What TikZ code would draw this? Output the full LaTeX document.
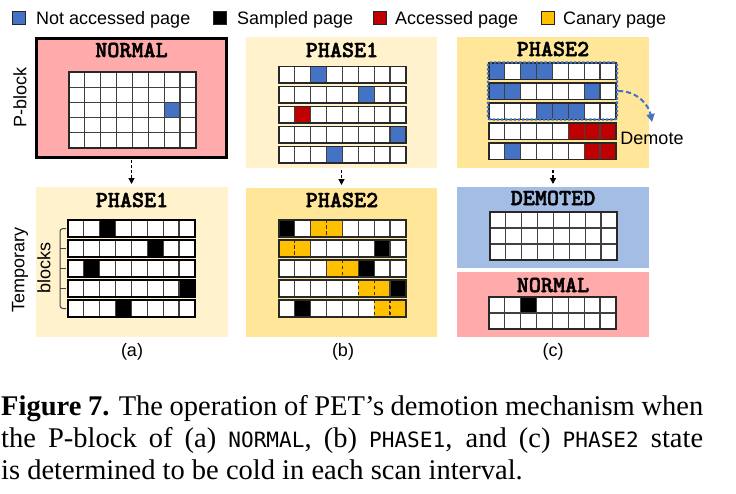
\documentclass[tikz,border=0pt]{standalone}
\usepackage{fontspec}
\setmainfont{Liberation Serif}
\setsansfont{Liberation Sans}
\newfontfamily\capmono{DejaVu Sans Mono}[Scale=0.74]
\newfontfamily\titlefont{lmmonolt10-bold.otf}[FakeBold=2]
\usetikzlibrary{arrows.meta,positioning}

\definecolor{notacc}{HTML}{4472C4}
\definecolor{accessed}{HTML}{C00000}
\definecolor{canary}{HTML}{FFC000}
\definecolor{pinkbg}{RGB}{255,171,171}
\definecolor{beigebg}{HTML}{FFF2CC}
\definecolor{goldbg}{HTML}{FFE699}
\definecolor{demotedbg}{RGB}{164,189,228}
\definecolor{cellgray}{RGB}{64,64,64}
\definecolor{rowgray}{RGB}{40,40,40}

% one row of pages: x, y, height, kinds of the 8 pages
\newcommand{\cw}{15.85}
\newcommand{\pagerow}[4]{%
	\foreach \k [count=\i] in {#4}{%
		\edef\pgopt{cell,\k}%
		\expandafter\draw\expandafter[\pgopt] ({#1+(\i-1)*\cw},#2) rectangle +(\cw,#3);}%
	\path[rowline] (#1,#2) rectangle +({8*\cw},#3);}

\begin{document}
\begin{tikzpicture}%
		[
			x=1pt,y=-1pt,
			font={\sffamily},
			panel/.style={rectangle,inner sep=0pt,outer sep=0pt,draw=none},
			title/.style={font={\titlefont\fontsize{23}{26}\selectfont},inner sep=0pt},
			label/.style={font={\sffamily\fontsize{18}{21}\selectfont},inner sep=0pt},
			capline/.style={font={\rmfamily\fontsize{28.5}{32}\selectfont},inner sep=0pt,anchor=base west},
			legbox/.style={draw=black!85,line width=1pt,minimum size=13pt,inner sep=0pt},
			cell/.style={draw=cellgray,line width=1.2pt},
			rowline/.style={draw=rowgray,line width=1.8pt},
			gridedge/.style={draw=rowgray,line width=1.8pt},
			pw/.style={fill=white},
			pb/.style={fill=notacc},
			pk/.style={fill=black},
			pr/.style={fill=accessed},
			py/.style={fill=canary,draw=black!80,dashed},
			flow/.style={-{Triangle[length=6pt,width=6pt]},line width=1.4pt,dash pattern=on 3pt off 2pt,shorten <=2pt,shorten >=3pt},
			selbox/.style={rectangle,draw=notacc,line width=2.4pt,dash pattern=on 2.4pt off 1.8pt,rounded corners=3pt,inner sep=0pt},
			demflow/.style={draw=notacc,line width=2pt,dash pattern=on 5pt off 3pt,-{Triangle[length=8pt,width=8pt]}},
		]
		\useasboundingbox (0,0) rectangle (736,493);
		
		% legend
		\node[legbox,fill=notacc] (kNot) at (18.5,18) {};
		\node[label,anchor=base west] (tNot) at (36,24) {Not accessed page};
		\node[legbox,fill=black] (kSmp) at (219.5,18) {};
		\node[label,anchor=base west] (tSmp) at (237,24) {Sampled page};
		\node[legbox,fill=accessed] (kAcc) at (379.5,18) {};
		\node[label,anchor=base west] (tAcc) at (395,24) {Accessed page};
		\node[legbox,fill=canary] (kCan) at (547.5,18) {};
		\node[label,anchor=base west] (tCan) at (563,24) {Canary page};
		
		% panels
		\node[panel,fill=pinkbg,draw=black,line width=2.6pt,minimum width=190pt,minimum height=119pt] (normA) at (131.5,98) {};
		\node[panel,fill=beigebg,minimum width=192pt,minimum height=150pt] (ph1A) at (132,262) {};
		\node[panel,fill=beigebg,minimum width=191pt,minimum height=131pt] (ph1B) at (341.5,102.5) {};
		\node[panel,fill=goldbg,minimum width=191pt,minimum height=149pt] (ph2B) at (341.5,262.5) {};
		\node[panel,fill=goldbg,minimum width=192pt,minimum height=131pt] (ph2C) at (553,102.5) {};
		\node[panel,fill=demotedbg,minimum width=192pt,minimum height=81pt] (demC) at (553,227.5) {};
		\node[panel,fill=pinkbg,minimum width=192pt,minimum height=65pt] (normC) at (553,304.5) {};
		
		\node[title] (tNormA) at (131.5,50) {NORMAL};
		\node[title] (tPh1A) at (132,200) {PHASE1};
		\node[title] (tPh1B) at (342,50) {PHASE1};
		\node[title] (tPh2B) at (342,200) {PHASE2};
		\node[title] (tPh2C) at (553,49) {PHASE2};
		\node[title] (tDemC) at (553,198) {DEMOTED};
		\node[title] (tNormC) at (553,285) {NORMAL};
		
		% (a) P-block in NORMAL
		\begin{scope}[rowline/.style={}]
			\pagerow{69}{72}{15.2}{pw,pw,pw,pw,pw,pw,pw,pw}
			\pagerow{69}{87.2}{15.2}{pw,pw,pw,pw,pw,pw,pw,pw}
			\pagerow{69}{102.4}{15.2}{pw,pw,pw,pw,pw,pw,pb,pw}
			\pagerow{69}{117.6}{15.2}{pw,pw,pw,pw,pw,pw,pw,pw}
			\pagerow{69}{132.8}{15.2}{pw,pw,pw,pw,pw,pw,pw,pw}
			\draw[gridedge] (69,72) rectangle +(126.8,76);
		\end{scope}
		
		% (a) temporary blocks
		\begin{scope}[rowline/.style={draw=black,line width=2.6pt}]
			\pagerow{68}{220}{17}{pw,pw,pk,pw,pw,pw,pw,pw}
			\pagerow{68}{240}{17}{pw,pw,pw,pw,pw,pk,pw,pw}
			\pagerow{68}{260}{17}{pw,pk,pw,pw,pw,pw,pw,pw}
			\pagerow{68}{280}{17}{pw,pw,pw,pw,pw,pw,pw,pk}
			\pagerow{68}{300}{17}{pw,pw,pw,pk,pw,pw,pw,pw}
		\end{scope}
		\draw[cellgray,line width=1pt,rounded corners=3pt] (66,228.5) -| (60,308.5) -- (66,308.5);
		\draw[cellgray,line width=1pt] (60,248.5) -- (66,248.5) (60,268.5) -- (66,268.5) (60,288.5) -- (66,288.5);
		
		% (b) PHASE1
		\pagerow{279}{66.5}{16.5}{pw,pw,pb,pw,pw,pw,pw,pw}
		\pagerow{279}{86.5}{16.5}{pw,pw,pw,pw,pw,pb,pw,pw}
		\pagerow{279}{106.5}{16.5}{pw,pr,pw,pw,pw,pw,pw,pw}
		\pagerow{279}{126.5}{16.5}{pw,pw,pw,pw,pw,pw,pw,pb}
		\pagerow{279}{146.5}{16.5}{pw,pw,pw,pb,pw,pw,pw,pw}
		
		% (b) PHASE2
		\pagerow{279}{220}{17}{pk,pw,py,py,pw,pw,pw,pw}
		\pagerow{279}{240}{17}{py,py,pw,pw,pw,pw,pk,pw}
		\pagerow{279}{260}{17}{pw,pw,pw,py,py,pk,pw,pw}
		\pagerow{279}{280}{17}{pw,pw,pw,pw,pw,py,py,pk}
		\pagerow{279}{300}{17}{pw,pk,pw,pw,pw,pw,py,py}
		
		% (c) PHASE2
		\pagerow{489}{63}{16.5}{pb,pw,pb,pb,pw,pw,pw,pw}
		\pagerow{489}{83}{16.5}{pb,pb,pw,pw,pw,pw,pb,pw}
		\pagerow{489}{103}{16.5}{pw,pw,pw,pb,pb,pb,pw,pw}
		\pagerow{489}{123}{16.5}{pw,pw,pw,pw,pw,pr,pr,pr}
		\pagerow{489}{143}{16.5}{pw,pb,pw,pw,pw,pw,pr,pr}
		\node[selbox,minimum width=129pt,minimum height=57pt] (demSel) at (552.5,91) {};
		\coordinate (demTip) at (652,122);
		\draw[demflow] (demSel.east) .. controls +(20,0) and +(-3,-16) .. (demTip);
		\node[label] (demTxt) at (652,138) {Demote};
		
		% (c) DEMOTED and NORMAL
		\begin{scope}[rowline/.style={}]
			\pagerow{490}{212}{16}{pw,pw,pw,pw,pw,pw,pw,pw}
			\pagerow{490}{228}{16}{pw,pw,pw,pw,pw,pw,pw,pw}
			\pagerow{490}{244}{16}{pw,pw,pw,pw,pw,pw,pw,pw}
			\draw[gridedge] (490,212) rectangle +(126.8,48);
			\pagerow{489}{297}{16}{pw,pw,pk,pw,pw,pw,pw,pw}
			\pagerow{489}{313}{16}{pw,pw,pw,pw,pw,pw,pw,pw}
			\draw[gridedge] (489,297) rectangle +(126.8,32);
		\end{scope}
		
		% transitions
		\draw[flow] (normA.south) -- (normA.south |- ph1A.north);
		\draw[flow] (ph1B.south) -- (ph1B.south |- ph2B.north);
		\draw[flow] (ph2C.south) -- (ph2C.south |- demC.north);
		
		% side and sub labels
		\node[label,rotate=90] (pBlk) at (20,97) {P-block};
		\node[label,rotate=90] (tmpA) at (20,270) {Temporary};
		\node[label,rotate=90] (tmpB) at (44,268) {blocks};
		\node[label] (subA) at (132,352) {(a)};
		\node[label] (subB) at (343,352) {(b)};
		\node[label] (subC) at (553,352) {(c)};
		
		% caption
		\node[capline] (cap1) at (1,415) {\makebox[702pt][s]{\textbf{Figure 7.} The operation of PET’s demotion mechanism when}};
		\node[capline] (cap2) at (1,447) {\makebox[702pt][s]{the P-block of (a) {\capmono NORMAL}, (b) {\capmono PHASE1}, and (c) {\capmono PHASE2} state}};
		\node[capline] (cap3) at (1,479) {is determined to be cold in each scan interval.};
	\end{tikzpicture}
\end{document}
